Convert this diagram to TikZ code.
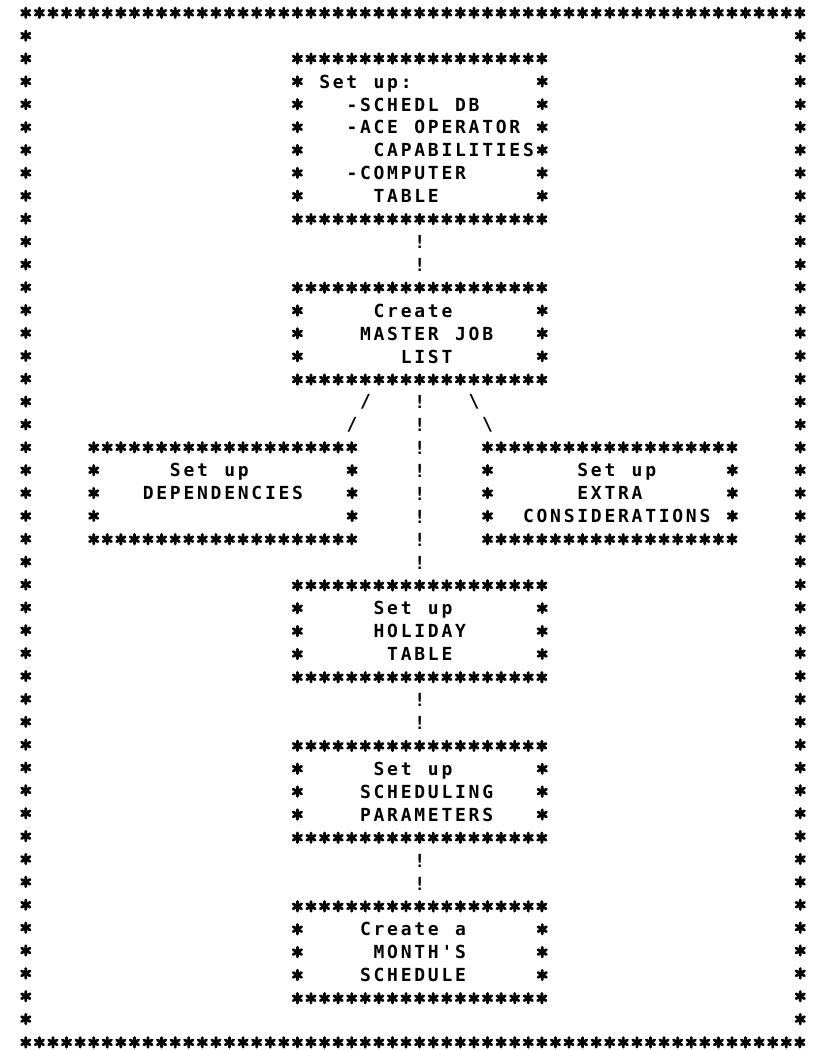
\documentclass[tikz,border=0pt]{standalone}
\usepackage{fontspec}
\newfontfamily\printfont{DejaVu Sans Mono}
\usetikzlibrary{positioning, calc, decorations.markings}
\setlength\parindent{0pt}

% one printer column
\newlength\cw
\setlength\cw{13.58pt}

% a printed line: indent in columns, then one character per column
\ExplSyntaxOn
\NewDocumentCommand \typed { O{0} m }
  {
    \rule[-4.875pt]{0pt}{22.87pt}
    \hspace*{#1\cw}
    \str_map_inline:nn {#2} { \makebox[\cw][c]{##1} }
  }
\ExplSyntaxOff

% asterisks all round a node, #2 columns across, #3 rows inside
\newcommand\starframe[3]{%
  \foreach \i in {0,...,#2} {
    \pic at ($(#1.north west)+(\i,0)$) {ast};
    \pic at ($(#1.south west)+(\i,0)$) {ast};
  }
  \foreach \j in {1,...,#3} {
    \pic at ($(#1.north west)+(0,\j)$) {ast};
    \pic at ($(#1.north east)+(0,\j)$) {ast};
  }}

\begin{document}
\begin{tikzpicture}[x=13.58pt, y=-22.87pt, node distance=68.61pt,
ast/.pic={\draw[line width=2.8pt, line cap=round] (0,-4.8pt) -- (0,4.8pt)
  (-4.2pt,-2.4pt) -- (4.2pt,2.4pt) (-4.2pt,2.4pt) -- (4.2pt,-2.4pt);},
box/.style={rectangle, inner sep=0pt, minimum width=244.44pt, minimum height=91.48pt,
  text width=230.86pt, align=left, font=\printfont\bfseries\fontsize{18pt}{22.87pt}\selectfont},
glyph/.style={inner sep=0pt, font=\printfont\bfseries\fontsize{18pt}{22.87pt}\selectfont},
bangs/.style={decoration={markings,
  mark=between positions 22.87pt and -11pt step 22.87pt with {\node[glyph] {!};}}, decorate},
slashes/.style={decoration={markings,
  mark=at position 0.3333 with {\node[glyph] {#1};},
  mark=at position 0.6667 with {\node[glyph] {#1};}}, decorate} ]
\useasboundingbox (-1.9146,-0.5684) rectangle (58.8366,45.343);

\node (page) [rectangle, inner sep=0pt, minimum width=774.06pt, minimum height=1029.15pt] at (28.5,22.5) {};

\node (A) [box, minimum height=160.09pt] at (29,5.5) {\typed[1]{Set up:}\\ \typed[3]{-SCHEDL DB}\\
  \typed[3]{-ACE OPERATOR}\\ \typed[5]{CAPABILITIES}\\ \typed[3]{-COMPUTER}\\ \typed[5]{TABLE}};
\node (B) [box, below = of A] {\typed[5]{Create}\\ \typed[4]{MASTER JOB}\\ \typed[7]{LIST}};
\node (C) [box, minimum width=258.02pt, text width=244.44pt] at (14.5,21)
  {\typed[5]{Set up}\\ \typed[3]{DEPENDENCIES}\\ \typed{}};
\node (D) [box] at (43,21) {\typed[6]{Set up}\\ \typed[6]{EXTRA}\\ \typed[2]{CONSIDERATIONS}};
\node (E) [box, below = 205.83pt of B] {\typed[5]{Set up}\\ \typed[5]{HOLIDAY}\\ \typed[6]{TABLE}};
\node (F) [box, below = of E] {\typed[5]{Set up}\\ \typed[4]{SCHEDULING}\\ \typed[4]{PARAMETERS}};
\node (G) [box, below = of F] {\typed[4]{Create a}\\ \typed[5]{MONTH'S}\\ \typed[4]{SCHEDULE}};

\starframe{page}{57}{44}
\starframe{A}{18}{6}
\starframe{B}{18}{3}
\starframe{C}{19}{3}
\starframe{D}{18}{3}
\starframe{E}{18}{3}
\starframe{F}{18}{3}
\starframe{G}{18}{3}

\path[bangs] (A) -- (B);
\path[bangs] (B) -- (E);
\path[bangs] (E) -- (F);
\path[bangs] (F) -- (G);
\path[slashes=/] ($(B.south)+(-3,0)$) -- ($(C.north east)+(-1,0)$);
\path[slashes=\textbackslash] ($(B.south)+(3,0)$) -- ($(D.north west)+(1,0)$);

\end{tikzpicture}
\end{document}
